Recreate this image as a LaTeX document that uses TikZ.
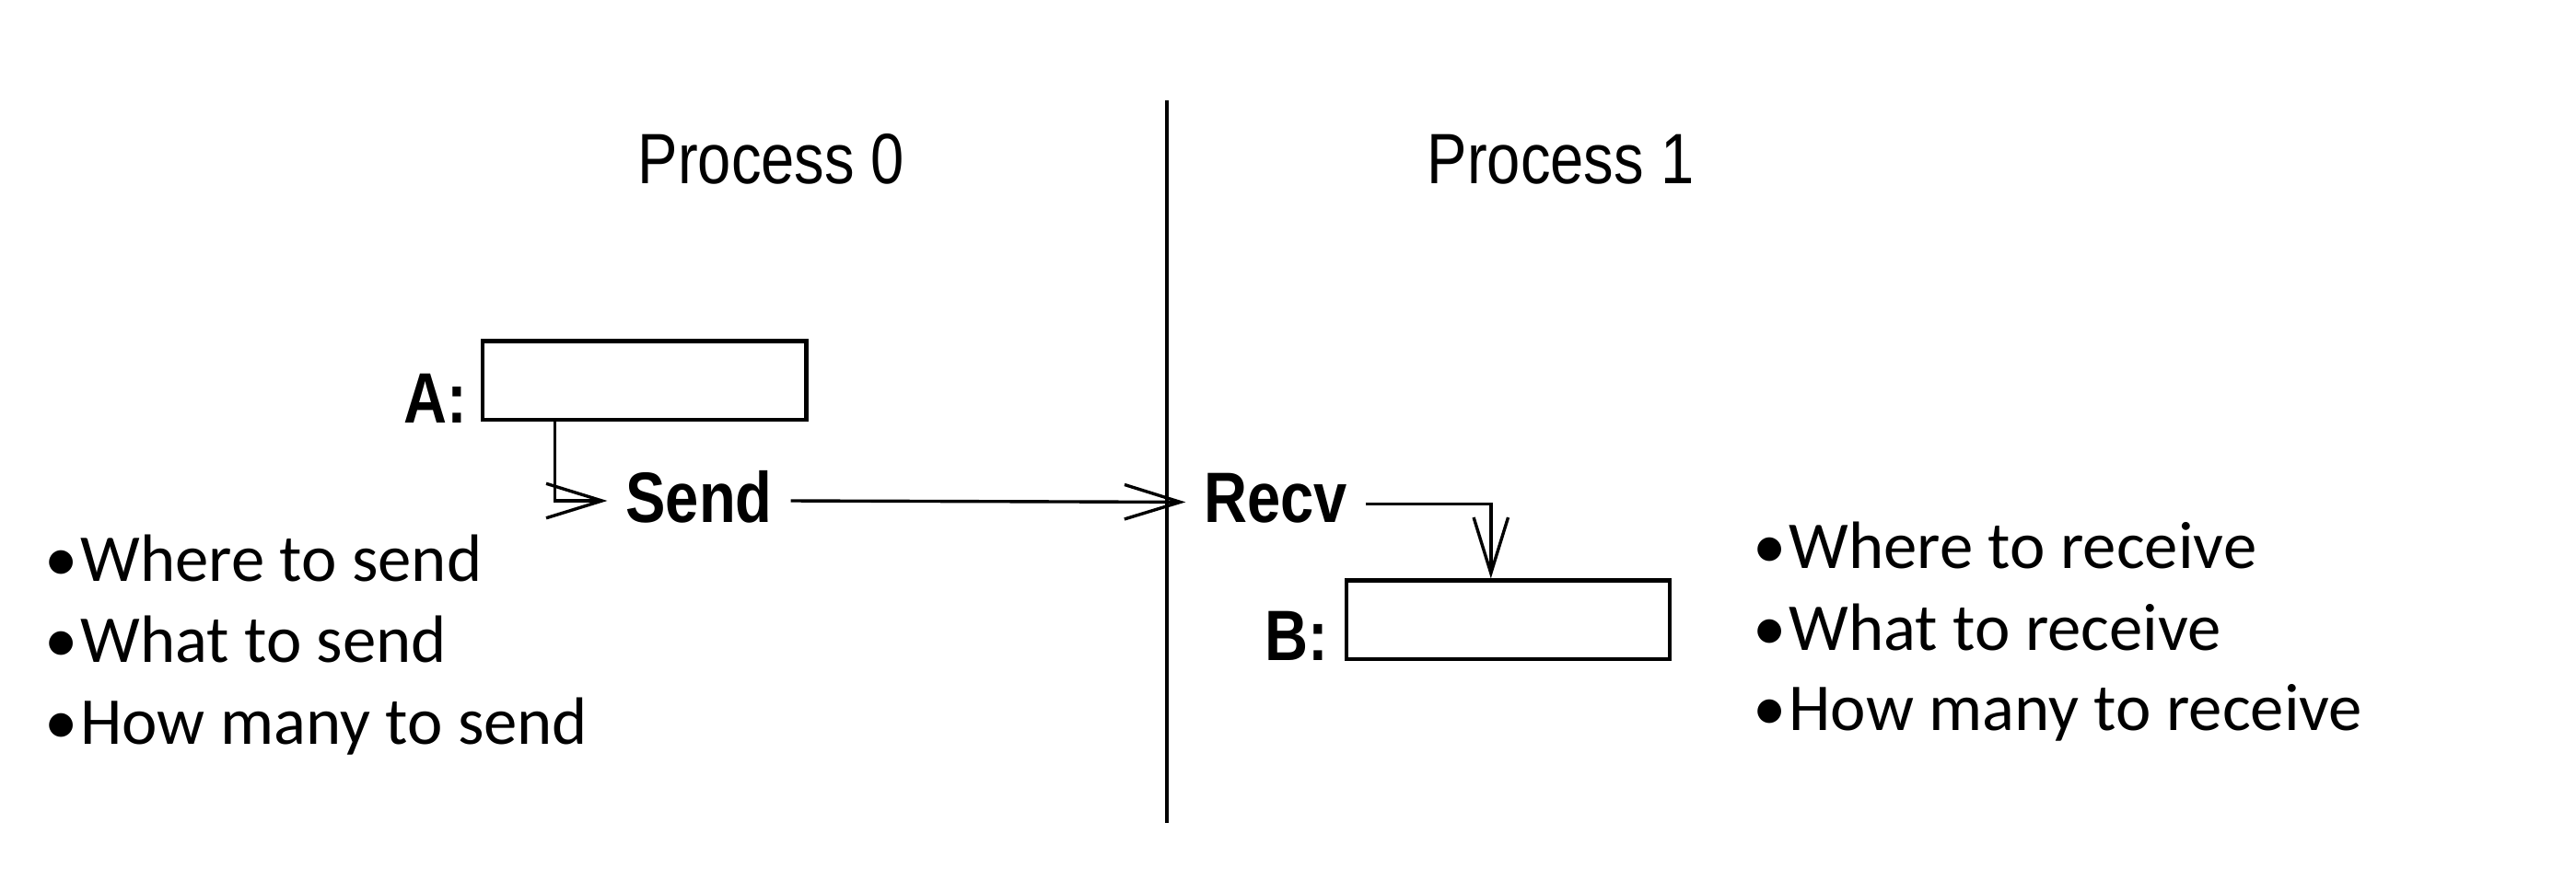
\documentclass[tikz,border=0pt]{standalone}
\usepackage{fontspec}
\usetikzlibrary{arrows.meta}
\newfontfamily\diafont{Liberation Sans}
\newfontfamily\bulfont{Carlito}
\tikzset{
  dtext/.style={font=\diafont\fontsize{36.5}{40}\selectfont, inner sep=0pt, anchor=base},
  btext/.style={font=\diafont\bfseries\fontsize{36.5}{40}\selectfont, inner ysep=0pt, inner xsep=11pt, anchor=base},
  lbl/.style={font=\diafont\bfseries\fontsize{36.5}{40}\selectfont, inner sep=0pt, anchor=base east},
  membox/.style={draw, line width=2.4pt, minimum width=197pt, minimum height=48pt, inner sep=0pt},
  bul/.style={font=\bulfont\fontsize{40.8}{48}\selectfont, inner sep=0pt, anchor=base west},
  conn/.style={line width=1.9pt, -{Straight Barb[length=34pt,width=21pt,line width=1.9pt]}},
  divider/.style={line width=1.9pt}
}
\newcommand{\tallt}[1]{\scalebox{1}[1.19]{#1}}
\begin{document}
\begin{tikzpicture}[x=1pt,y=-1pt]
\useasboundingbox[fill=white] (0,0) rectangle (1568,529.2);
% divider
\coordinate (dtop) at (710.3,61);
\coordinate (dbot) at (710.3,501);
\draw[divider] (dtop) -- (dbot);
% titles
\node[dtext] (p0) at (469.5,111.6) {\tallt{Process 0}};
\node[dtext] (p1) at (950,111.6) {\tallt{Process 1}};
% boxes
\node[membox] (A) at (392.3,231.7) {};
\node[membox] (B) at (918,377.5) {};
\node[lbl] (Al) at (284.5,257.5) {\tallt{A:}};
\node[lbl] (Bl) at (808.5,402.5) {\tallt{B:}};
% send / recv
\node[btext] (send) at (425.5,318) {\tallt{Send}};
\node[btext] (recv) at (776.5,318) {\tallt{Recv}};
% connectors
\draw[conn] ([xshift=-54.5pt]A.south) |- ([yshift=-2.5pt]send.west);
\draw[conn] ([yshift=-2.5pt]send.east) -- ([yshift=-2.5pt]recv.west);
\draw[conn] ([yshift=-3.5pt]recv.east) -| ([xshift=-10.5pt]B.north);
% bullets left
\node[bul] (l1) at (27,354) {•\kern1.5pt Where to send};
\node[bul] (l2) at (27,403.6) {•\kern1.5pt What to send};
\node[bul] (l3) at (27,453) {•\kern1.5pt How many to send};
% bullets right
\node[bul] (r1) at (1067,346) {•\kern1.5pt Where to receive};
\node[bul] (r2) at (1067,396) {•\kern1.5pt What to receive};
\node[bul] (r3) at (1067,445) {•\kern1.5pt How many to receive};
\end{tikzpicture}
\end{document}
